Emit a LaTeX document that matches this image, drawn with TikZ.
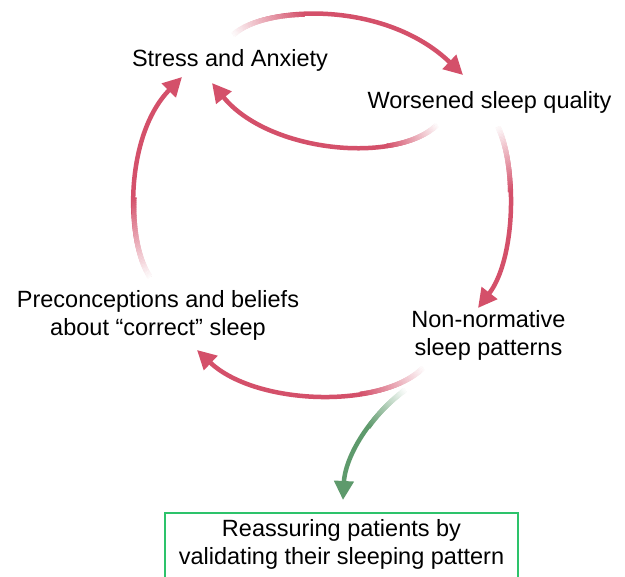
\documentclass[tikz,border=0pt]{standalone}
\usepackage{fontspec}
\setmainfont{Liberation Sans}
\usetikzlibrary{arrows.meta,decorations.markings}
\definecolor{cyclered}{HTML}{D4506A}
\definecolor{fixgreen}{HTML}{5E9A6C}
\definecolor{boxgreen}{HTML}{2DC36B}
\tikzset{
  lbl/.style={font=\fontsize{23.5}{28}\selectfont, align=center, inner sep=0pt, anchor=north, text=black},
  fadearrow/.style 2 args={draw=#1, line width=4.5pt,
    -{Triangle[length=19pt,width=19pt]},
    postaction={decorate, decoration={markings,
      mark=between positions 0 and #2 step 0.4pt with {%
        \pgfmathtruncatemacro\pc{min(100,(\pgfkeysvalueof{/pgf/decoration/mark info/distance from start}/(#2*\pgfdecoratedpathlength))*100)}%
        \pgfmathsetmacro\lw{5.3-0.8*\pc/100}%
        \draw[arrows=-, #1!\pc!white, line width=\lw pt, line cap=butt] (-0.35pt,0) -- (0.35pt,0);}}}},
  solution/.style={draw=boxgreen, line width=2pt, font=\fontsize{23.5}{28}\selectfont,
    align=center, anchor=north, minimum width=353pt, inner xsep=0pt, inner ysep=6pt}
}
\begin{document}
\begin{tikzpicture}[x=1pt,y=-1pt]
\useasboundingbox (0,0) rectangle (625,577);
\clip (0,0) rectangle (625,577);
\fill[white] (0,0) rectangle (625,577);

\node[lbl] (stress) at (230,49) {Stress and Anxiety};
\node[lbl] (worse) at (489.5,91) {Worsened sleep quality};
\node[lbl] (nonnorm) at (488.5,310) {Non-normative\\sleep patterns};
\node[lbl] (precon) at (158,290) {Preconceptions and beliefs\\about “correct” sleep};
\node[solution] (reassure) at (341.5,512) {Reassuring patients by\\validating their sleeping pattern\rule[-30pt]{0pt}{30pt}};

\coordinate (a1s) at (233,35);  \coordinate (a1e) at (463,75);
\coordinate (a2s) at (437,125); \coordinate (a2e) at (212,83);
\coordinate (a3s) at (498,127); \coordinate (a3e) at (478,308);
\coordinate (a4s) at (423,368); \coordinate (a4e) at (197,350);
\coordinate (a5s) at (150,277); \coordinate (a5e) at (182,77);
\coordinate (gs) at (405,390);  \coordinate (ge) at (343,500);

\draw[fadearrow={cyclered}{0.3}] (a1s) .. controls (265,5) and (385,0) .. (a1e);
\draw[fadearrow={cyclered}{0.22}] (a2s) .. controls (395,165) and (268,152) .. (a2e);
\draw[fadearrow={cyclered}{0.35}] (a3s) .. controls (518,170) and (515,260) .. (a3e);
\draw[fadearrow={cyclered}{0.28}] (a4s) .. controls (380,410) and (255,405) .. (a4e);
\draw[fadearrow={cyclered}{0.38}] (a5s) .. controls (125,240) and (125,135) .. (a5e);
\draw[fadearrow={fixgreen}{0.4}] (gs) .. controls (365,420) and (345,460) .. (ge);
\end{tikzpicture}
\end{document}
